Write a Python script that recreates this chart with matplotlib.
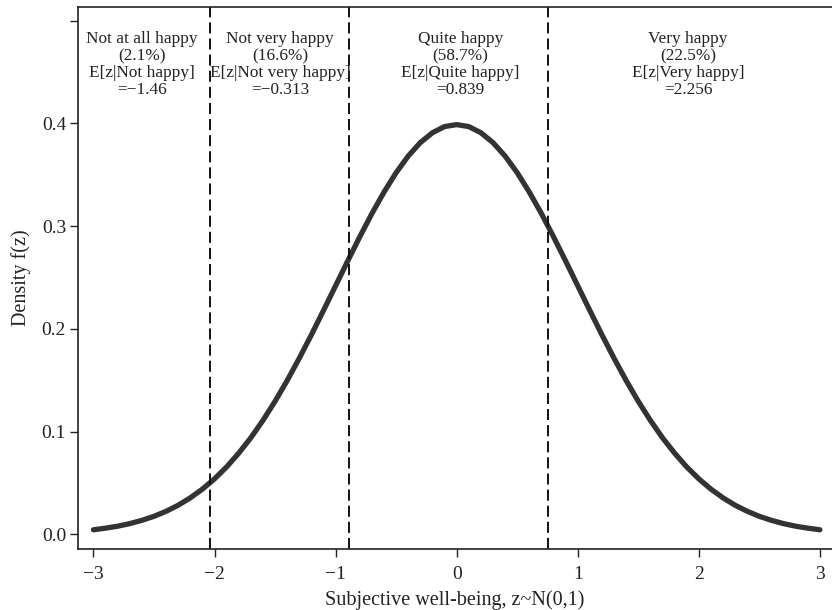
import matplotlib

matplotlib.use("Agg")
import matplotlib.pyplot as plt

# density values, z from -3 to 3 in steps of 0.1
z = [round(-3 + 0.1 * i, 1) for i in range(61)]
density = [
    0.0044, 0.0060, 0.0079, 0.0104, 0.0136, 0.0175, 0.0224, 0.0283, 0.0355, 0.0440,
    0.0540, 0.0656, 0.0790, 0.0940, 0.1109, 0.1295, 0.1497, 0.1714, 0.1942, 0.2179,
    0.2420, 0.2661, 0.2897, 0.3123, 0.3332, 0.3521, 0.3683, 0.3814, 0.3910, 0.3970,
    0.3989,
    0.3970, 0.3910, 0.3814, 0.3683, 0.3521, 0.3332, 0.3123, 0.2897, 0.2661, 0.2420,
    0.2179, 0.1942, 0.1714, 0.1497, 0.1295, 0.1109, 0.0940, 0.0790, 0.0656, 0.0540,
    0.0440, 0.0355, 0.0283, 0.0224, 0.0175, 0.0136, 0.0104, 0.0079, 0.0060, 0.0044,
]

# category cut-offs and labels
cutoffs = [-2.034, -0.887, 0.755]
categories = ["Not at all happy", "Not very happy", "Quite happy", "Very happy"]
shares = ["2.1%", "16.6%", "58.7%", "22.5%"]
cond_names = ["Not happy", "Not very happy", "Quite happy", "Very happy"]
cond_means = ["\u22121.46", "\u22120.313", "0.839", "2.256"]
label_x = [-2.6, -1.46, 0.03, 1.91]

x_ticks = [-3, -2, -1, 0, 1, 2, 3]
y_ticks = [0.0, 0.1, 0.2, 0.3, 0.4, 0.5]
y_ticklabels = ["0.0", "0.1", "0.2", "0.3", "0.4", ""]

plt.rcParams["font.family"] = ["Liberation Serif", "DejaVu Serif"]
plt.rcParams["lines.scale_dashes"] = False

fig = plt.figure(figsize=(8.32, 6.10), dpi=100)
ax = fig.add_axes([0.0941, 0.1, 0.9059, 0.889])

ax.plot(z, density, color="#333333", lw=3.8,
        solid_capstyle="round", solid_joinstyle="round")
for c in cutoffs:
    ax.axvline(c, color="#111111", lw=1.4, dashes=(8, 3.6))

for i in range(4):
    txt = f"{categories[i]}\n({shares[i]})\nE[z|{cond_names[i]}]\n={cond_means[i]}"
    ax.text(label_x[i], 0.4575, txt, ha="center", va="center",
            fontsize=12.4, linespacing=1.08, color="#222222")

ax.set_xlim(-3.125, 3.10)
ax.set_ylim(-0.0143, 0.5137)
ax.set_xticks(x_ticks)
ax.set_xticklabels([str(t).replace("-", "\u2212") for t in x_ticks])
ax.set_yticks(y_ticks)
ax.set_yticklabels(y_ticklabels)
ax.tick_params(labelsize=14, length=5.8, width=1.0, colors="#222222", pad=3)
ax.tick_params(axis="x", pad=6.5)

for side in ["left", "bottom", "top"]:
    ax.spines[side].set_linewidth(1.2)
    ax.spines[side].set_color("#222222")
ax.spines["right"].set_visible(False)

ax.set_xlabel("Subjective well-being, z~N(0,1)", fontsize=14.5, color="#222222", labelpad=5)
ax.set_ylabel("Density f(z)", fontsize=14.5, color="#222222", labelpad=8)

fig.savefig("out.png", dpi=100)
